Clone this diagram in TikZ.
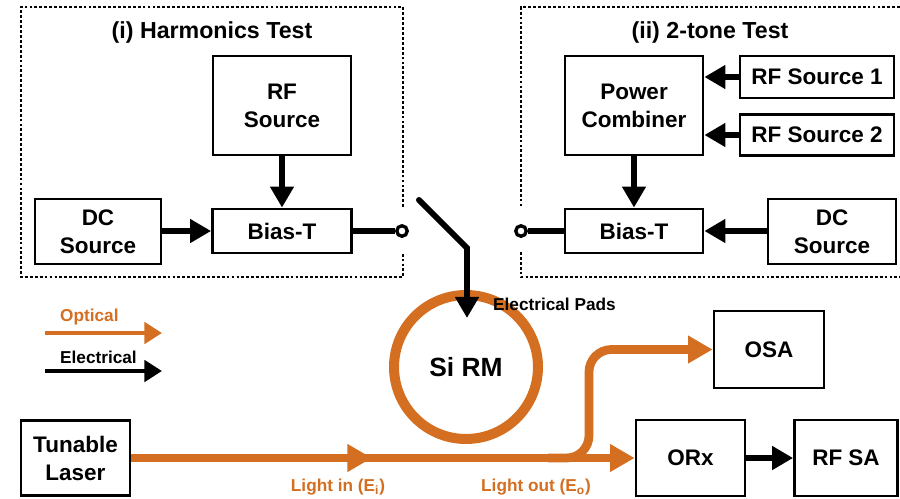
\documentclass[tikz,border=0pt]{standalone}
\usepackage{fontspec}
\setmainfont{Liberation Sans}
\usetikzlibrary{arrows.meta, positioning, calc}
\definecolor{optorange}{RGB}{212, 110, 32}

\begin{document}
\begin{tikzpicture}[x=0.02cm, y=-0.02cm,
  box/.style={draw, line width=1.6pt, inner sep=0pt, align=center, font=\fontsize{12.8}{15.9}\selectfont\bfseries},
  elec/.style={line width=3.4pt, -{Triangle[length=12pt, width=13pt]}},
  wire/.style={line width=3.4pt},
  optic/.style={draw=optorange, line width=5pt, -{Triangle[length=14pt, width=15pt]}},
  legopt/.style={draw=optorange, line width=2.8pt, -{Triangle[length=10pt, width=12pt]}},
  legele/.style={line width=2.8pt, -{Triangle[length=10pt, width=12pt]}},
  term/.style={circle, draw, fill=white, line width=1.9pt, inner sep=0pt, minimum size=0.21cm},
  groupbox/.style={line width=0.9pt, dash pattern=on 1.6pt off 1.2pt},
  title/.style={font=\fontsize{13.2}{16}\selectfont\bfseries},
  small/.style={font=\fontsize{9.8}{12}\selectfont\bfseries},
]
  \useasboundingbox (0,0) rectangle (900,498);

  % (i) Harmonics test
  \draw[groupbox] (403,207) -- (403,7) -- (21,7) -- (21,277) -- (403,277) -- (403,252);
  \node[title] (titleL) at (212,32) {(i) Harmonics Test};
  \node[box, minimum width=2.76cm, minimum height=1.98cm] (rfL) at (282,105.5) {RF\\Source};
  \node[box, minimum width=2.52cm, minimum height=1.30cm] (dcL) at (98,231.5) {DC\\Source};
  \node[box, minimum width=2.78cm, minimum height=0.88cm] (biasL) at (282,231) {Bias-T};
  \draw[elec] (rfL) -- (biasL);
  \draw[elec] (dcL.east |- biasL) -- (biasL.west);
  \node[term] (termL) at (402,231) {};
  \draw[wire] (biasL.east) -- (termL.west);

  % (ii) 2-tone test
  \draw[groupbox] (900,7) -- (521,7) -- (521,207);
  \draw[groupbox] (521,252) -- (521,277) -- (900,277);
  \node[title] (titleR) at (710,32) {(ii) 2-tone Test};
  \node[box, minimum width=2.76cm, minimum height=1.98cm] (comb) at (634,105.5) {Power\\Combiner};
  \node[box, minimum width=3.08cm, minimum height=0.84cm] (rf1) at (817,77) {RF Source 1};
  \node[box, minimum width=3.08cm, minimum height=0.82cm] (rf2) at (817,135) {RF Source 2};
  \node[box, minimum width=2.76cm, minimum height=0.88cm] (biasR) at (634,231) {Bias-T};
  \node[box, minimum width=2.56cm, minimum height=1.30cm] (dcR) at (832,231.5) {DC\\Source};
  \draw[elec] (rf1.west) -- (rf1.west -| comb.east);
  \draw[elec] (rf2.west) -- (rf2.west -| comb.east);
  \draw[elec] (comb) -- (biasR);
  \draw[elec] (dcR.west |- biasR) -- (biasR.east);
  \node[term] (termR) at (521,231) {};
  \draw[wire] (termR.east) -- (biasR.west);

  % Switch and ring modulator
  \node[circle, draw=optorange, line width=5.7pt, minimum size=2.88cm, font=\fontsize{15}{18}\selectfont\bfseries] (ring) at (466,367) {Si RM};
  \coordinate (swA) at (419,200);
  \coordinate (swB) at (467,248);
  \coordinate (pad) at (467,318);
  \draw[elec, line cap=round] (swA) -- (swB) -- (pad);
  \node[small, anchor=west] (padlbl) at (487,304) {Electrical Pads};

  % Legend
  \node[small, text=optorange, anchor=west] (optlbl) at (54,317) {Optical};
  \coordinate (optA) at (45,333);
  \coordinate (optB) at (162,333);
  \draw[legopt] (optA) -- (optB);
  \node[small, anchor=west] (elelbl) at (54,357) {Electrical};
  \coordinate (eleA) at (45,371);
  \coordinate (eleB) at (162,371);
  \draw[legele] (eleA) -- (eleB);

  % Optical path
  \node[box, minimum width=2.18cm, minimum height=1.50cm] (laser) at (75.5,458) {Tunable\\Laser};
  \node[box, minimum width=2.20cm, minimum height=1.54cm] (osa) at (769,349.5) {OSA};
  \node[box, minimum width=2.18cm, minimum height=1.52cm] (orx) at (690.5,458) {ORx};
  \node[box, minimum width=2.06cm, minimum height=1.52cm] (rfsa) at (846,458) {RF SA};
  \coordinate (mid) at (372,458);
  \coordinate (tap) at (548,458);
  \coordinate (bend) at (589,458);
  \draw[optic] (laser.east) -- (orx.west);
  \draw[optic] (laser.east) -- (mid);
  \draw[optic, rounded corners=0.45cm] (tap) -- (bend) |- (osa.west);
  \draw[elec] (orx) -- (rfsa);
  \node[small, text=optorange] (lightin) at (338,487) {Light in (E\textsubscript{i})};
  \node[small, text=optorange] (lightout) at (536,487) {Light out (E\textsubscript{o})};
\end{tikzpicture}
\end{document}
